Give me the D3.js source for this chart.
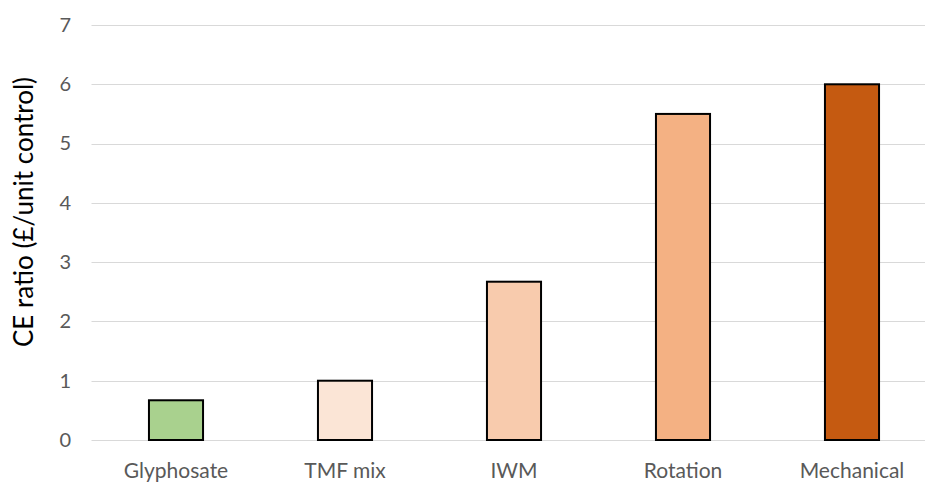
<!DOCTYPE html>
<html>
<head>
<meta charset="utf-8">
<script src="https://cdn.jsdelivr.net/npm/d3@7"></script>
<style>
  html, body { margin: 0; padding: 0; background: #fff; }
  svg { display: block; font-family: Lato, "Open Sans", sans-serif; }
</style>
</head>
<body>
<svg id="chart" width="925" height="482"></svg>
<script>
// Cost-effectiveness ratio per weed-control strategy
const categories = ["Glyphosate", "TMF mix", "IWM", "Rotation", "Mechanical"];
const ceRatio = [0.67, 1.0, 2.67, 5.5, 6.0];
const barColors = ["#a9d18e", "#fbe5d6", "#f8cbad", "#f4b183", "#c55a11"];
const yTicks = [0, 1, 2, 3, 4, 5, 6, 7];

(function drawChart() {
  const svg = d3.select("#chart");
  const plotLeft = 91.5, plotBottom = 440, plotTop = 25;

  const x = d3.scaleBand()
    .domain(categories)
    .range([plotLeft, plotLeft + 169 * categories.length])
    .paddingInner(0.68)
    .paddingOuter(0.34);

  const y = d3.scaleLinear().domain([0, 7]).range([plotBottom, plotTop]);

  // Horizontal gridlines
  svg.append("g")
    .selectAll("line")
    .data(yTicks)
    .join("line")
    .attr("x1", plotLeft).attr("x2", 925)
    .attr("y1", d => Math.round(y(d)) + 0.5)
    .attr("y2", d => Math.round(y(d)) + 0.5)
    .attr("stroke", "#d9d9d9")
    .attr("stroke-width", 1);

  // Y axis tick labels
  const yAxis = d3.axisLeft(y).tickValues(yTicks).tickFormat(d3.format("d"))
    .tickSize(0).tickPadding(0);
  const gy = svg.append("g").attr("transform", "translate(71,0)").call(yAxis);
  gy.select(".domain").remove();
  gy.selectAll("text")
    .attr("fill", "#595959")
    .style("font-size", "20px")
    .style("font-family", "Lato, 'Open Sans', sans-serif");

  // Bars
  svg.append("g")
    .selectAll("rect")
    .data(categories)
    .join("rect")
    .attr("x", d => x(d))
    .attr("width", x.bandwidth())
    .attr("y", (d, i) => y(ceRatio[i]))
    .attr("height", (d, i) => y(0) - y(ceRatio[i]))
    .attr("fill", (d, i) => barColors[i])
    .attr("stroke", "#000")
    .attr("stroke-width", 2);

  // X axis category labels
  const xAxis = d3.axisBottom(x).tickSize(0).tickPadding(0);
  const gx = svg.append("g").attr("transform", `translate(0,${plotBottom + 23})`).call(xAxis);
  gx.select(".domain").remove();
  gx.selectAll("text")
    .attr("fill", "#595959")
    .style("font-size", "21px")
    .style("font-family", "Lato, 'Open Sans', sans-serif");

  // Y axis title
  svg.append("text")
    .attr("transform", "translate(33,212) rotate(-90)")
    .attr("text-anchor", "middle")
    .attr("fill", "#000")
    .style("font-size", "26px")
    .text("CE ratio (£/unit control)");
})();
</script>
</body>
</html>
